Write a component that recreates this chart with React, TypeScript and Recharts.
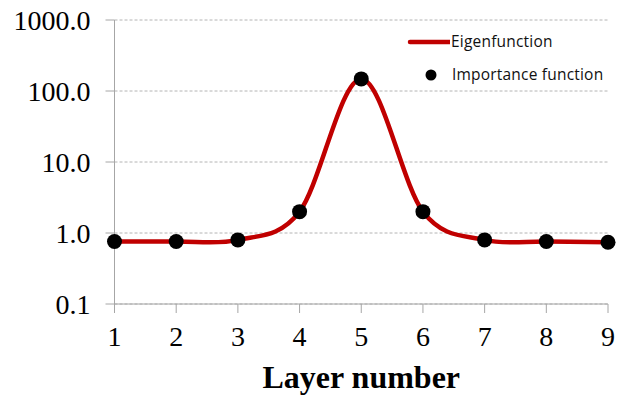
import React from 'react';
import { ComposedChart, Line, XAxis, YAxis, CartesianGrid, Legend, Label } from 'recharts';

const layers = [1, 2, 3, 4, 5, 6, 7, 8, 9];
const eigenfunction = [0.76, 0.76, 0.8, 2.0, 148, 2.0, 0.8, 0.76, 0.74];
const importance = [0.76, 0.76, 0.8, 2.0, 148, 2.0, 0.8, 0.76, 0.74];
const yTicks = [0.1, 1, 10, 100, 1000];
const xTicks = [1, 2, 3, 4, 5, 6, 7, 8, 9];

const data = layers.map((l, i) => ({ layer: l, eigen: eigenfunction[i], imp: importance[i] }));

// Excel-like smooth curve (Catmull-Rom through points)
const excelCurve: any = (context: any) => {
  let pts: [number, number][] = [];
  return {
    areaStart() {},
    areaEnd() {},
    lineStart() { pts = []; },
    point(x: number, y: number) { pts.push([+x, +y]); },
    lineEnd() {
      const n = pts.length;
      if (n === 0) return;
      context.moveTo(pts[0][0], pts[0][1]);
      for (let i = 0; i < n - 1; i++) {
        const p0 = pts[Math.max(i - 1, 0)];
        const p1 = pts[i];
        const p2 = pts[i + 1];
        const p3 = pts[Math.min(i + 2, n - 1)];
        const c1x = p1[0] + (p2[0] - p0[0]) / 6;
        const c1y = p1[1] + (p2[1] - p0[1]) / 6;
        const c2x = p2[0] - (p3[0] - p1[0]) / 6;
        const c2y = p2[1] - (p3[1] - p1[1]) / 6;
        context.bezierCurveTo(c1x, c1y, c2x, c2y, p2[0], p2[1]);
      }
    },
  };
};

const legendFont = "'Open Sans', 'Noto Sans', sans-serif";
const serif = "'Liberation Serif', 'Times New Roman', serif";

const LegendContent = () => (
  <div style={{ position: 'relative', width: 215, height: 60, fontFamily: legendFont, fontSize: 15.5, letterSpacing: 0.2, color: '#111' }}>
    <svg width={45} height={60} style={{ position: 'absolute', left: 0, top: 0 }}>
      <line x1={5} y1={14} x2={45} y2={14} stroke="#C00000" strokeWidth={4.5} strokeLinecap="round" />
      <circle cx={26} cy={47} r={5.5} fill="#000" />
    </svg>
    <div style={{ position: 'absolute', left: 46, top: 2, whiteSpace: 'nowrap', lineHeight: '22px' }}>Eigenfunction</div>
    <div style={{ position: 'absolute', left: 47, top: 35, whiteSpace: 'nowrap', lineHeight: '22px' }}>Importance function</div>
  </div>
);

export default function App() {
  return (
    <div style={{ position: 'absolute', left: 0, top: 0, width: 621, height: 396, background: '#fff' }}>
      <ComposedChart width={621} height={396} data={data} margin={{ top: 20, right: 13, bottom: 0, left: 0 }}>
        <CartesianGrid vertical={false} stroke="#b4b4b4" strokeDasharray="3 2" />
        <XAxis
          dataKey="layer"
          type="number"
          domain={[1, 9]}
          ticks={xTicks}
          height={92}
          tickSize={9}
          tickMargin={13}
          stroke="#a6a6a6"
          tick={{ fill: '#000', fontFamily: serif, fontSize: 28 }}
          interval={0}
        >
          <Label
            value="Layer number"
            position="insideBottom"
            offset={8}
            style={{ fill: '#000', fontFamily: serif, fontSize: 32, fontWeight: 'bold' }}
          />
        </XAxis>
        <YAxis
          scale="log"
          domain={[0.1, 1000]}
          ticks={yTicks}
          allowDataOverflow
          width={114.5}
          tickSize={9}
          tickMargin={15}
          stroke="#a6a6a6"
          interval={0}
          tickFormatter={(v: number) => v.toFixed(1)}
          tick={{ fill: '#000', fontFamily: serif, fontSize: 28 }}
        />
        <Legend
          layout="horizontal"
          verticalAlign="middle"
          align="center"
          wrapperStyle={{ left: 405, top: 28, width: 215, height: 60 }}
          content={() => <LegendContent />}
        />
        <Line
          dataKey="eigen"
          name="Eigenfunction"
          type={excelCurve}
          stroke="#C00000"
          strokeWidth={4.5}
          dot={false}
          activeDot={false}
          isAnimationActive={false}
        />
        <Line
          dataKey="imp"
          name="Importance function"
          type="linear"
          stroke="none"
          dot={{ r: 7.5, fill: '#000', stroke: 'none' }}
          activeDot={false}
          isAnimationActive={false}
        />
      </ComposedChart>
    </div>
  );
}
